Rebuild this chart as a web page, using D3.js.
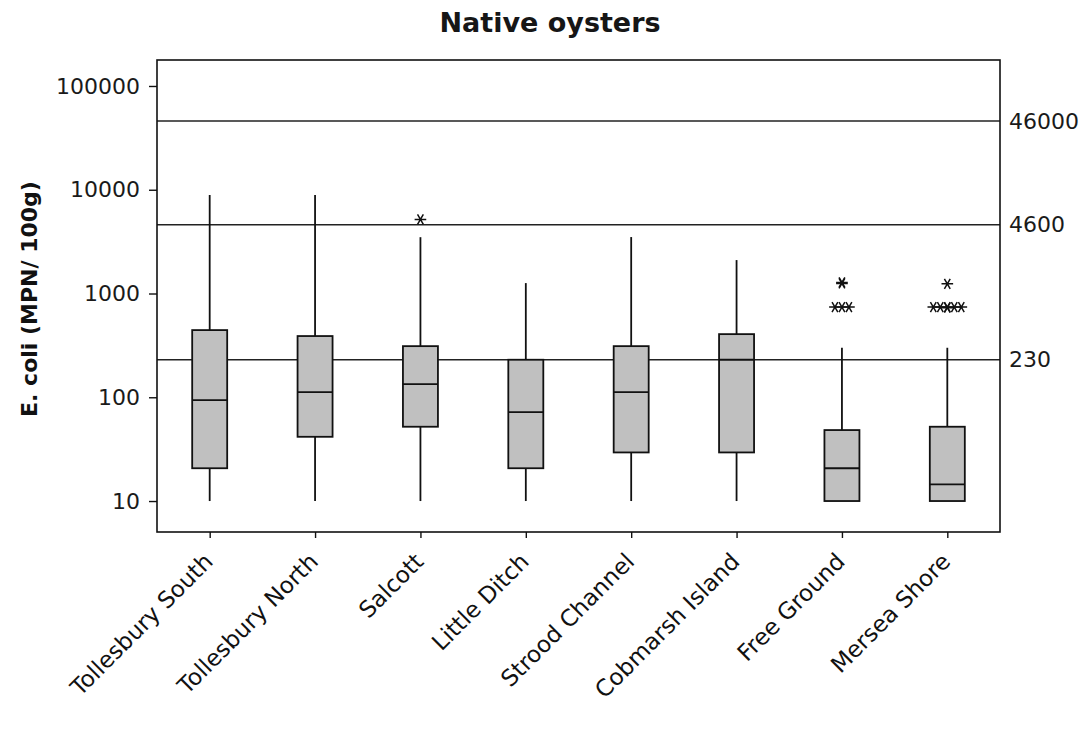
<!DOCTYPE html>
<html>
<head>
<meta charset="utf-8">
<script src="https://cdn.jsdelivr.net/npm/d3@7/dist/d3.min.js"></script>
<style>
  html, body { margin: 0; padding: 0; background: #fff; }
  svg { display: block; }
  text { font-family: "DejaVu Sans", Verdana, sans-serif; }
</style>
</head>
<body>
<svg id="chart" width="1086" height="733"></svg>
<script>
// Sites sampled
const sites = ["Tollesbury South", "Tollesbury North", "Salcott", "Little Ditch",
               "Strood Channel", "Cobmarsh Island", "Free Ground", "Mersea Shore"];

// Five-number summaries per site (MPN/100g)
const whiskerLow  = [10, 10, 10, 10, 10, 10, 10, 10];
const q1          = [20.7, 41.6, 52, 20.7, 29.4, 29.4, 10, 10];
const median      = [94, 112, 134, 72, 112, 230, 20.7, 14.5];
const q3          = [444, 389, 311, 230, 311, 406, 48.3, 52];
const whiskerHigh = [8900, 8900, 3490, 1260, 3500, 2100, 300, 300];

// Outlying results per site
const outliers = [
  [], [], [5180], [], [], [],
  [1280, 1250, 740, 740, 740],
  [1240, 740, 740, 740, 740, 740, 730]
];

// Classification thresholds drawn as reference lines
const refLines = [46000, 4600, 230];

// Y axis tick values
const yTicks = [10, 100, 1000, 10000, 100000];

const svg = d3.select("#chart");
const plotL = 157, plotR = 1000, plotT = 60, plotB = 532;
const ink = "#111";

const y = d3.scaleLog().domain([5.03, 178000]).range([plotB, plotT]);
const x = d3.scalePoint().domain(sites).range([plotL, plotR]).padding(0.5);
const boxW = 35;

// Title
svg.append("text")
  .attr("x", 550).attr("y", 32)
  .attr("text-anchor", "middle")
  .attr("font-size", 27).attr("font-weight", "bold")
  .attr("fill", "#161616")
  .text("Native oysters");

// Y axis label
svg.append("text")
  .attr("transform", "translate(37,299) rotate(-90)")
  .attr("text-anchor", "middle")
  .attr("font-size", 22).attr("font-weight", "bold")
  .attr("fill", ink)
  .text("E. coli (MPN/ 100g)");

// Reference lines and their labels
const g = svg.append("g");
refLines.forEach(v => {
  g.append("line")
    .attr("x1", plotL).attr("x2", plotR)
    .attr("y1", y(v)).attr("y2", y(v))
    .attr("stroke", "#222").attr("stroke-width", 1.4);
  svg.append("text")
    .attr("x", 1009).attr("y", y(v))
    .attr("dy", "0.35em")
    .attr("font-size", 22).attr("fill", "#1a1a1a")
    .text(v);
});

// Boxes, whiskers, medians
sites.forEach((s, i) => {
  const cx = x(s);
  g.append("line")
    .attr("x1", cx).attr("x2", cx)
    .attr("y1", y(whiskerHigh[i])).attr("y2", y(q3[i]))
    .attr("stroke", ink).attr("stroke-width", 1.8);
  g.append("line")
    .attr("x1", cx).attr("x2", cx)
    .attr("y1", y(q1[i])).attr("y2", y(whiskerLow[i]))
    .attr("stroke", ink).attr("stroke-width", 1.8);
  g.append("rect")
    .attr("x", cx - boxW / 2).attr("width", boxW)
    .attr("y", y(q3[i])).attr("height", y(q1[i]) - y(q3[i]))
    .attr("fill", "#c0c0c0").attr("stroke", ink).attr("stroke-width", 1.8);
  g.append("line")
    .attr("x1", cx - boxW / 2).attr("x2", cx + boxW / 2)
    .attr("y1", y(median[i])).attr("y2", y(median[i]))
    .attr("stroke", ink).attr("stroke-width", 1.8);

  // Tied outliers are placed side by side
  const groups = d3.group(outliers[i], d => d);
  groups.forEach((vals, v) => {
    const n = vals.length;
    vals.forEach((_, k) => {
      const ox = (k - (n - 1) / 2) * 7;
      g.append("path")
        .attr("d", d3.symbol(d3.symbolAsterisk, 95)())
        .attr("transform", `translate(${cx + ox},${y(v)}) rotate(90)`)
        .attr("fill", "none").attr("stroke", ink).attr("stroke-width", 1.5);
    });
  });
});

// Frame
svg.append("rect")
  .attr("x", plotL).attr("y", plotT)
  .attr("width", plotR - plotL).attr("height", plotB - plotT)
  .attr("fill", "none").attr("stroke", ink).attr("stroke-width", 1.6);

// Left axis
const yAxis = svg.append("g")
  .attr("transform", `translate(${plotL},0)`)
  .call(d3.axisLeft(y).tickValues(yTicks).tickFormat(d3.format("d"))
    .tickSizeOuter(0).tickSize(8).tickPadding(9));
yAxis.select(".domain").remove();
yAxis.selectAll("line").attr("stroke", ink).attr("stroke-width", 1.4);
yAxis.selectAll("text").attr("font-size", 22).attr("fill", "#1a1a1a")
  .style("font-family", "DejaVu Sans, Verdana, sans-serif");

// Bottom axis with slanted site names
const xAxis = svg.append("g")
  .attr("transform", `translate(0,${plotB})`)
  .call(d3.axisBottom(x).tickSizeOuter(0).tickSize(6));
xAxis.select(".domain").remove();
xAxis.selectAll("line").attr("stroke", ink).attr("stroke-width", 1.4);
xAxis.selectAll("text")
  .attr("font-size", 23).attr("fill", ink)
  .style("font-family", "DejaVu Sans, Verdana, sans-serif")
  .attr("text-anchor", "end")
  .attr("x", 0).attr("y", 0).attr("dx", 0).attr("dy", 0)
  .attr("transform", "translate(4,31) rotate(-45)");
</script>
</body>
</html>
